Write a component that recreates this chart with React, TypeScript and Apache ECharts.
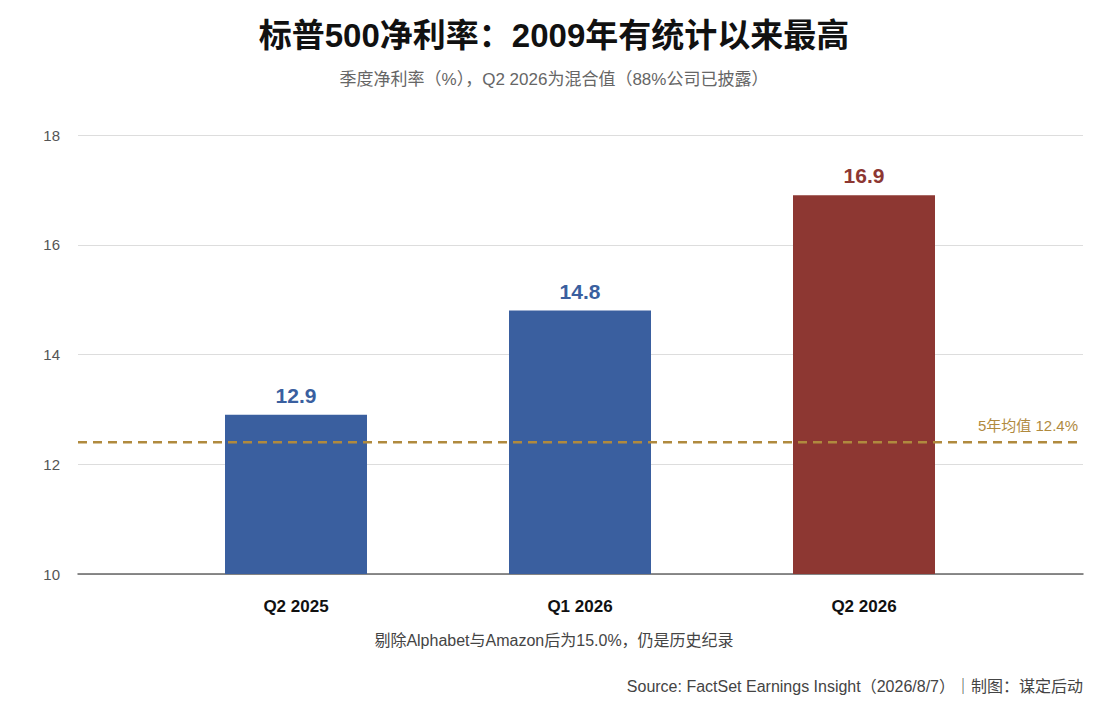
import { useEffect, useRef } from 'react';
import * as echarts from 'echarts';

const categories = ['Q2 2025', 'Q1 2026', 'Q2 2026'];
const margins = [12.9, 14.8, 16.9];
const barColors = ['#3a5f9f', '#3a5f9f', '#8d3732'];
const avgValue = 12.4;
const yTicks = { min: 10, max: 18, interval: 2 };

export default function App() {
  const chartRef = useRef<HTMLDivElement>(null);

  useEffect(() => {
    if (!chartRef.current) return;
    const chart = echarts.init(chartRef.current, null, { renderer: 'svg' });
    const font = '"Liberation Sans", "Noto Sans CJK SC", sans-serif';

    const option: echarts.EChartsOption = {
      animation: false,
      textStyle: { fontFamily: font },
      title: [
        {
          text: '标普500净利率：2009年有统计以来最高',
          left: 'center',
          top: 14,
          textStyle: { fontSize: 33, fontWeight: 'bold', color: '#111', fontFamily: font }
        },
        {
          text: '季度净利率（%），Q2 2026为混合值（88%公司已披露）',
          left: 'center',
          top: 66,
          textStyle: { fontSize: 17, fontWeight: 'normal', color: '#666', fontFamily: font }
        }
      ],
      grid: [
        { left: 78, right: 25, top: 135, bottom: 143 },
        { left: 154, right: 102, top: 135, bottom: 143 }
      ],
      xAxis: [
        {
          type: 'value',
          gridIndex: 0,
          min: 0,
          max: 1,
          axisLabel: { show: false },
          axisTick: { show: false },
          splitLine: { show: false },
          axisLine: { show: true, onZero: false, lineStyle: { color: '#666', width: 1.5 } }
        },
        {
          type: 'category',
          gridIndex: 1,
          data: categories,
          axisLine: { show: false },
          axisTick: { show: false },
          axisLabel: { fontSize: 17, fontWeight: 'bold', color: '#111', margin: 24, fontFamily: font }
        }
      ],
      yAxis: [
        {
          type: 'value',
          gridIndex: 0,
          ...yTicks,
          axisLine: { show: false },
          axisTick: { show: false },
          axisLabel: { fontSize: 15, color: '#555', margin: 18 },
          splitLine: { lineStyle: { color: '#ddd' } }
        },
        {
          type: 'value',
          gridIndex: 1,
          ...yTicks,
          show: false,
          splitLine: { show: false }
        }
      ],
      series: [
        {
          type: 'bar',
          xAxisIndex: 1,
          yAxisIndex: 1,
          barWidth: 142,
          data: margins.map((v, i) => ({
            value: v,
            itemStyle: { color: barColors[i] },
            label: { color: barColors[i] }
          })),
          label: {
            show: true,
            position: 'top',
            distance: 9,
            fontSize: 21,
            fontWeight: 'bold',
            fontFamily: font
          }
        },
        {
          type: 'line',
          xAxisIndex: 0,
          yAxisIndex: 0,
          symbol: 'none',
          data: [[0, avgValue], [1, avgValue]],
          lineStyle: { color: '#b08a3e', width: 2.5, type: [9, 6] },
          z: 5
        }
      ],
      graphic: [
        {
          type: 'text',
          right: 30,
          top: 418,
          style: { text: '5年均值 12.4%', fontSize: 15, fill: '#b08a3e', fontFamily: font }
        },
        {
          type: 'text',
          left: 'center',
          top: 632,
          style: { text: '剔除Alphabet与Amazon后为15.0%，仍是历史纪录', fontSize: 16, fill: '#444', fontFamily: font }
        },
        {
          type: 'text',
          right: 25,
          top: 678,
          style: { text: 'Source: FactSet Earnings Insight（2026/8/7）｜制图：谋定后动', fontSize: 16, fill: '#444', fontFamily: font }
        }
      ]
    };

    chart.setOption(option);
    return () => chart.dispose();
  }, []);

  return (
    <div
      ref={chartRef}
      style={{ position: 'absolute', left: 0, top: 0, width: 1108, height: 717, background: '#fff' }}
    />
  );
}
